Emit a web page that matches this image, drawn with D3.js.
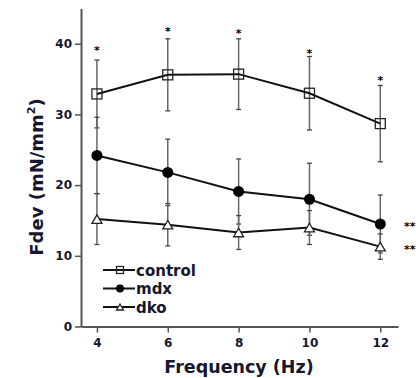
<!DOCTYPE html>
<html>
<head>
<meta charset="utf-8">
<script src="https://cdn.jsdelivr.net/npm/d3@7"></script>
<style>
  html, body { margin: 0; padding: 0; background: #fff; }
  svg { display: block; }
  text { font-family: "DejaVu Sans", Arial, sans-serif; font-weight: bold; }
</style>
</head>
<body>
<div id="chart"></div>
<script>
const freqs = [4, 6, 8, 10, 12];
const controlMean = [32.9, 35.6, 35.7, 33.0, 28.7];
const controlErr = [4.8, 5.1, 5.0, 5.2, 5.4];
const mdxMean = [24.2, 21.8, 19.1, 18.0, 14.5];
const mdxErr = [5.4, 4.7, 4.6, 5.1, 4.1];
const dkoMean = [15.2, 14.4, 13.3, 14.0, 11.3];
const dkoErr = [3.6, 3.0, 2.4, 2.4, 1.8];
const starValues = [39.2, 41.9, 41.6, 38.9, 35.0];
const yTicks = [0, 10, 20, 30, 40];
const seriesNames = ['control', 'mdx', 'dko'];

const [w, h] = [416, 378];
const svg = d3.select('#chart').append('svg').attr('width', w).attr('height', h);

const x = d3.scaleLinear().domain([3.55, 12.5]).range([81, 398]);
const y = d3.scaleLinear().domain([0, 45]).range([326.5, 8.4]);

const ink = '#16162e';

// axes
const xAxis = svg.append('g').attr('transform', `translate(0,${y(0)})`)
  .call(d3.axisBottom(x).tickValues(freqs).tickSize(6).tickPadding(6).tickSizeOuter(0));
const yAxis = svg.append('g').attr('transform', `translate(${x(3.55)},0)`)
  .call(d3.axisLeft(y).tickValues(yTicks).tickSize(6).tickPadding(3).tickSizeOuter(0));
[xAxis, yAxis].forEach(g => {
  g.select('.domain').attr('stroke', '#555').attr('stroke-width', 2);
  g.selectAll('.tick line').attr('stroke', '#555').attr('stroke-width', 1.5);
  g.selectAll('.tick text').attr('fill', ink).style('font-size', '12px')
    .style('font-family', '"DejaVu Sans", Arial, sans-serif').style('font-weight', 'bold');
});

// axis titles
svg.append('text').attr('x', 239).attr('y', 373).attr('text-anchor', 'middle')
  .attr('fill', ink).style('font-size', '17.5px').text('Frequency (Hz)');
const yt = svg.append('text').attr('transform', 'translate(43,177) rotate(-90)')
  .attr('text-anchor', 'middle').attr('fill', ink).style('font-size', '18px');
yt.append('tspan').text('Fdev (mN/mm');
yt.append('tspan').attr('dy', -8).style('font-size', '11px').text('2');
yt.append('tspan').attr('dy', 8).text(')');

const series = [
  { name: seriesNames[0], mean: controlMean, err: controlErr, shape: 'square' },
  { name: seriesNames[1], mean: mdxMean, err: mdxErr, shape: 'circle' },
  { name: seriesNames[2], mean: dkoMean, err: dkoErr, shape: 'triangle' }
];

function marker(g, shape, cx, cy, s) {
  if (shape === 'square') {
    g.append('rect').attr('x', cx - s / 2).attr('y', cy - s / 2).attr('width', s).attr('height', s)
      .attr('fill', 'none').attr('stroke', '#222').attr('stroke-width', 1.3);
  } else if (shape === 'circle') {
    g.append('circle').attr('cx', cx).attr('cy', cy).attr('r', s / 2 + 0.5).attr('fill', '#000');
  } else {
    const hh = s * 0.85;
    g.append('path')
      .attr('d', `M${cx},${cy - hh / 2}L${cx + s / 2},${cy + hh / 2}L${cx - s / 2},${cy + hh / 2}Z`)
      .attr('fill', '#fff').attr('stroke', '#222').attr('stroke-width', 1.3);
  }
}

// error bars
series.forEach(s => {
  const g = svg.append('g');
  freqs.forEach((f, i) => {
    const cx = x(f), top = y(s.mean[i] + s.err[i]), bot = y(s.mean[i] - s.err[i]);
    g.append('line').attr('x1', cx).attr('x2', cx).attr('y1', top).attr('y2', bot)
      .attr('stroke', '#666').attr('stroke-width', 1.5);
    [top, bot].forEach(v => g.append('line').attr('x1', cx - 2.5).attr('x2', cx + 2.5)
      .attr('y1', v).attr('y2', v).attr('stroke', '#444').attr('stroke-width', 1.3));
  });
});

// lines and markers
const line = d3.line().x(d => x(d[0])).y(d => y(d[1]));
series.forEach(s => {
  svg.append('path').datum(freqs.map((f, i) => [f, s.mean[i]]))
    .attr('d', line).attr('fill', 'none').attr('stroke', '#111').attr('stroke-width', 2);
});
series.forEach(s => {
  const g = svg.append('g');
  freqs.forEach((f, i) => marker(g, s.shape, x(f), y(s.mean[i]), 10));
});

// significance stars
svg.append('g').selectAll('text').data(starValues).join('text')
  .attr('x', (d, i) => x(freqs[i])).attr('y', d => y(d) + 5).attr('text-anchor', 'middle')
  .attr('fill', '#000').style('font-size', '11px').text('*');
[mdxMean[4], dkoMean[4]].forEach(v => {
  svg.append('text').attr('x', 404).attr('y', y(v) + 6).attr('fill', '#000')
    .style('font-size', '11px').text('**');
});

// legend
const legY = [270, 288.5, 307];
series.forEach((s, i) => {
  const g = svg.append('g');
  g.append('line').attr('x1', 103).attr('x2', 135).attr('y1', legY[i]).attr('y2', legY[i])
    .attr('stroke', '#111').attr('stroke-width', 2);
  marker(g, s.shape, 120, legY[i], 7);
  g.append('text').attr('x', 136).attr('y', legY[i] + 5.5).attr('fill', ink)
    .style('font-size', '15px').text(s.name);
});
</script>
</body>
</html>
